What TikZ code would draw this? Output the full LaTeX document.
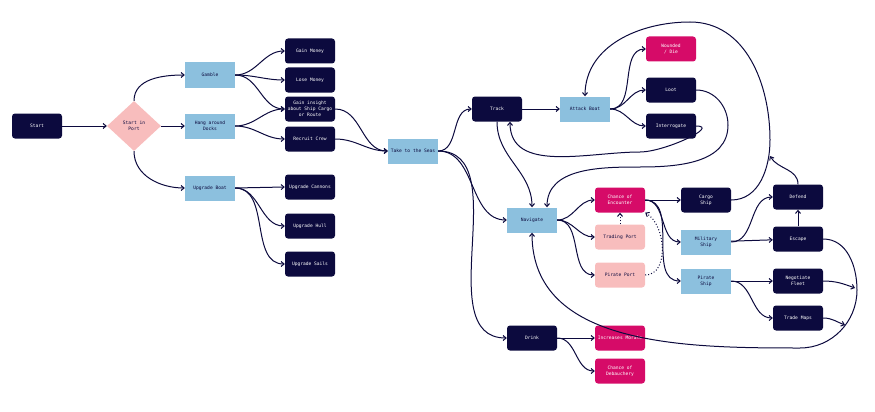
\documentclass[tikz,border=0pt]{standalone}
\usepackage{fontspec}
\setmainfont{DejaVu Sans Mono}
\usetikzlibrary{shapes.geometric,arrows.meta}
\definecolor{dk}{HTML}{0C0A3E}
\definecolor{lb}{HTML}{8CC0DE}
\definecolor{mg}{HTML}{D60B68}
\definecolor{pk}{HTML}{F8BDBD}
\tikzset{
 base/.style={minimum width=50pt,minimum height=25pt,align=center,font=\fontsize{4.6}{6}\selectfont,inner sep=1pt},
 dark/.style={base,fill=dk,text=white,rounded corners=3pt},
 blue/.style={base,fill=lb,text=dk},
 mag/.style={base,fill=mg,text=white,rounded corners=3pt},
 pink/.style={base,fill=pk,text=dk,rounded corners=3pt},
 ed/.style={draw=dk,line width=1pt,-{Straight Barb[length=3pt,width=5pt]}},
 dt/.style={ed,dotted}
}
\begin{document}
\begin{tikzpicture}[x=1pt,y=-1pt]
\useasboundingbox (0,0) rectangle (875,412);
\node[dark] (start) at (37,126) {Start};
\node[diamond,fill=pk,text=dk,minimum width=54pt,minimum height=50pt,inner sep=0pt,align=center,font=\fontsize{4.6}{6}\selectfont] (port) at (134,126) {Start in\\Port};
\node[blue] (gamble) at (210,75) {Gamble};
\node[blue] (hang) at (210,126) {Hang around\\Docks};
\node[blue] (upg) at (210,188) {Upgrade Boat};
\node[dark] (gm) at (310,51) {Gain Money};
\node[dark] (lm) at (310,80) {Lose Money};
\node[dark] (gi) at (310,109) {Gain insight\\about Ship Cargo\\or Route};
\node[dark] (rc) at (310,139) {Recruit Crew};
\node[dark] (uc) at (310,187) {Upgrade Cannons};
\node[dark] (uh) at (310,226) {Upgrade Hull};
\node[dark] (us) at (310,264) {Upgrade Sails};
\node[blue] (seas) at (413,151) {Take to the Seas};
\node[dark] (track) at (497,109) {Track};
\node[blue] (attack) at (585,109) {Attack Boat};
\node[mag] (wd) at (671,49) {Wounded\\/ Die};
\node[dark] (loot) at (671,90) {Loot};
\node[dark] (inter) at (671,126) {Interrogate};
\node[blue] (nav) at (532,220) {Navigate};
\node[mag] (enc) at (620,200) {Chance of\\Encounter};
\node[pink] (tp) at (620,237) {Trading Port};
\node[pink] (pp) at (620,275) {Pirate Port};
\node[dark] (cargo) at (706,200) {Cargo\\Ship};
\node[blue] (mil) at (706,242) {Military\\Ship};
\node[blue] (pir) at (706,281) {Pirate\\Ship};
\node[dark] (def) at (798,197) {Defend};
\node[dark] (esc) at (798,239) {Escape};
\node[dark] (neg) at (798,281) {Negotiate\\Fleet};
\node[dark] (tm) at (798,318) {Trade Maps};
\node[dark] (drink) at (532,338) {Drink};
\node[mag] (mor) at (620,338) {Increases Morale};
\node[mag] (deb) at (620,371) {Chance of\\Debauchery};
\coordinate (j1) at (770,156);
\coordinate (j2) at (855,288);
\coordinate (j3) at (845,325);

\draw[ed] (start) -- (port);
\draw[ed] (port.north) to[out=90,in=180] (gamble.west);
\draw[ed] (port) -- (hang);
\draw[ed] (port.south) to[out=-90,in=180] (upg.west);
\draw[ed] (gamble.east) to[out=0,in=180] (gm.west);
\draw[ed] (gamble.east) to[out=0,in=180] (lm.west);
\draw[ed] (gamble.east) to[out=0,in=180] (gi.west);
\draw[ed] (hang.east) to[out=0,in=180] (gi.west);
\draw[ed] (hang.east) to[out=0,in=180] (rc.west);
\draw[ed] (upg.east) -- (uc.west);
\draw[ed] (upg.east) to[out=0,in=180] (uh.west);
\draw[ed] (upg.east) to[out=0,in=180] (us.west);
\draw[ed] (gi.east) to[out=0,in=180] (seas.west);
\draw[ed] (rc.east) to[out=0,in=180] (seas.west);
\draw[ed] (seas.east) to[out=0,in=180] (track.west);
\draw[ed] (seas.east) to[out=0,in=180] (nav.west);
\draw[ed] (seas.east) to[out=0,in=180] (drink.west);
\draw[ed] (track) -- (attack);
\draw[ed] (attack.east) to[out=0,in=180] (wd.west);
\draw[ed] (attack.east) to[out=0,in=180] (loot.west);
\draw[ed] (attack.east) to[out=0,in=180] (inter.west);
\draw[ed] (track.south) to[out=-90,in=90] (nav.north);
\draw[ed] (inter.east) to[out=0,in=0,looseness=1] (640,152) to[out=180,in=-90] ([xshift=13pt]track.south);
\draw[ed] (loot.east) to[out=0,in=90] (728,125) to[out=-90,in=0] (640,167) to[out=180,in=90] ([xshift=15pt]nav.north);
\draw[ed] (cargo.east) to[out=0,in=-90] (770,140) to[out=90,in=0] (690,22) to[out=180,in=90] (attack.north);
\draw[ed] (def.north) to[out=90,in=-60] (j1);
\draw[ed] (nav.east) to[out=0,in=180] (enc.west);
\draw[ed] (nav.east) to[out=0,in=180] (tp.west);
\draw[ed] (nav.east) to[out=0,in=180] (pp.west);
\draw[dt] (tp.north) -- (enc.south);
\draw[dt] (pp.east) to[out=0,in=-30] (enc.south east);
\draw[ed] (enc) -- (cargo);
\draw[ed] (enc.east) to[out=0,in=180] (mil.west);
\draw[ed] (enc.east) to[out=0,in=180] (pir.west);
\draw[ed] (mil) -- (esc);
\draw[ed] (mil.east) to[out=0,in=180] (def.west);
\draw[ed] (esc) -- (def);
\draw[ed] (pir) -- (neg);
\draw[ed] (pir.east) to[out=0,in=180] (tm.west);
\draw[ed] (neg.east) to[out=0,in=160] (j2);
\draw[ed] (tm.east) to[out=0,in=160] (j3);
\draw[ed] (esc.east) to[out=0,in=90] (857,290) to[out=-90,in=0] (800,348) to[out=180,in=-90] (nav.south);
\draw[ed] (drink) -- (mor);
\draw[ed] (drink.east) to[out=0,in=180] (deb.west);
\end{tikzpicture}
\end{document}
